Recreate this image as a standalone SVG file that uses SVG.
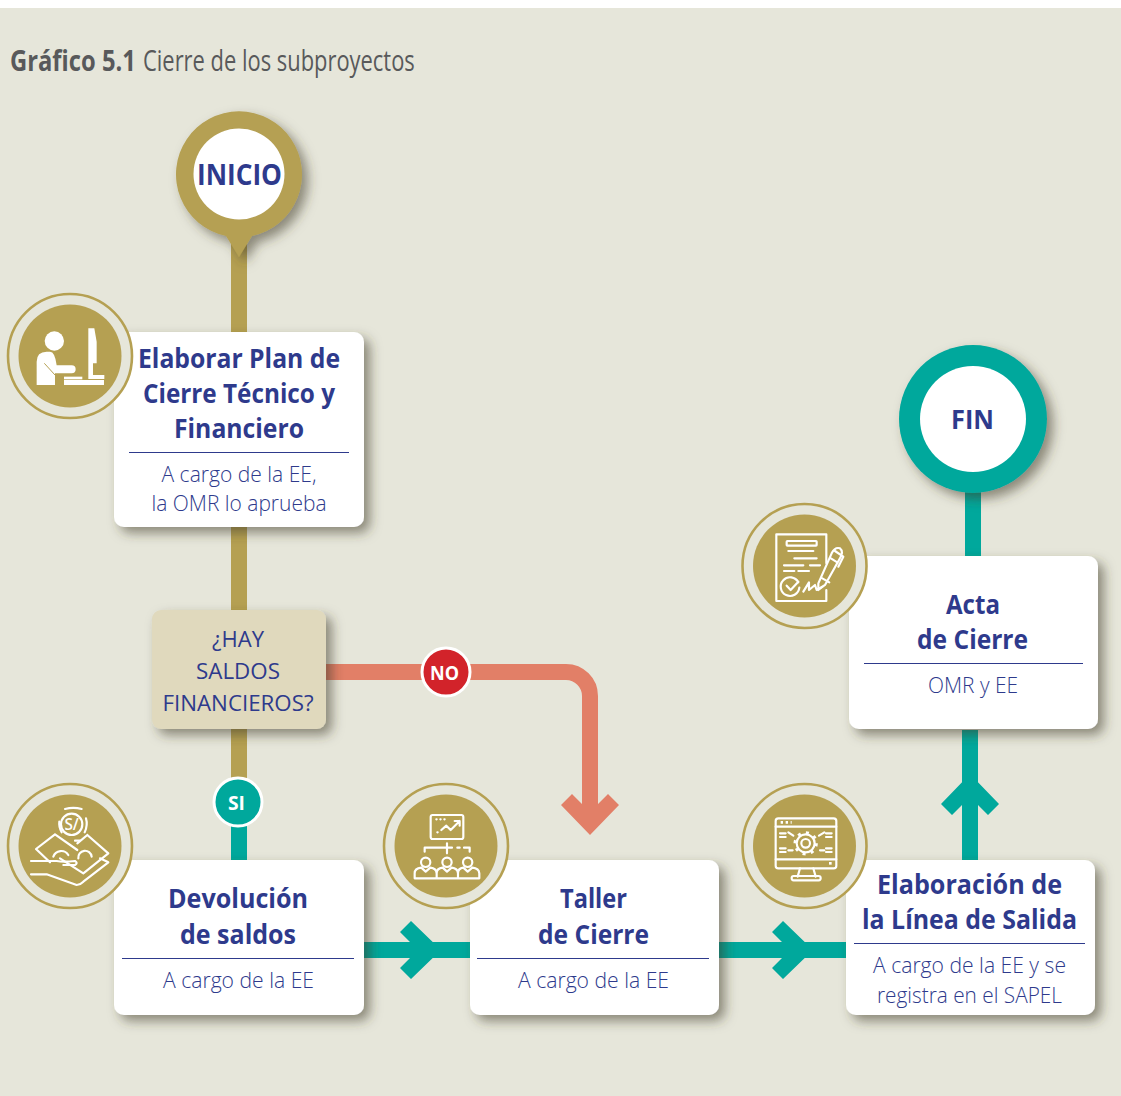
<svg xmlns="http://www.w3.org/2000/svg" xmlns:xlink="http://www.w3.org/1999/xlink" width="1121" height="1096" viewBox="0 0 1121 1096">
<style>
text{font-family:"Open Sans","Noto Sans","Liberation Sans",sans-serif;text-anchor:middle}
.h{font-weight:700;font-size:26px;fill:#2e3a8c}
.s{font-weight:300;font-size:22px;fill:#2e3a8c}
.d{font-weight:400;font-size:22px;fill:#2e3a8c}
.card{fill:#fff;filter:url(#sh)}
.div{stroke:#2e3a8c;stroke-width:1}
.ring{fill:#e6e6da;stroke:#b5a052;stroke-width:2.6}
.disc{fill:#b5a052}
.ic{fill:none;stroke:#fff;stroke-width:6.500;stroke-linecap:round;stroke-linejoin:round}
.icf{fill:#fff}
.gold{stroke:#b5a052;stroke-width:16;fill:none}
.teal{stroke:#00a89c;stroke-width:16;fill:none}
.sal{stroke:#e27f67;stroke-width:16;fill:none}
</style>
<defs>
<filter id="sh" x="-20%" y="-20%" width="150%" height="150%"><feDropShadow dx="6" dy="6" stdDeviation="6" flood-color="#3c3a2a" flood-opacity=".55"/></filter>
<polygon id="arrow" points="-29,-30 -18,-41 -8,-31 8,-31 18,-41 29,-30 0,0"/>
</defs>
<rect x="0" y="8" width="1121" height="1088" fill="#e6e6da"/>
<g id="title">
<text transform="translate(10 71) scale(.82 1)" style="text-anchor:start;font-weight:700;font-size:29px;fill:#58595b">Gráfico 5.1</text>
<text transform="translate(143 71) scale(.756 1)" style="text-anchor:start;font-weight:400;font-size:29px;fill:#58595b">Cierre de los subproyectos</text>
</g>
<g id="connectors">
<path class="gold" d="M239 240V610M239 729V800"/>
<path class="teal" d="M239 800V860"/>
<path class="sal" d="M326 672H566A24 24 0 0 1 590 696V820"/>
<use xlink:href="#arrow" href="#arrow" transform="translate(590 835)" fill="#e27f67"/>
<path class="teal" d="M364 950H470M719 950H846M970 730V860M973 490V556"/>
<use xlink:href="#arrow" href="#arrow" transform="translate(441 950) rotate(-90)" fill="#00a89c"/>
<use xlink:href="#arrow" href="#arrow" transform="translate(813 950) rotate(-90)" fill="#00a89c"/>
<use xlink:href="#arrow" href="#arrow" transform="translate(970 774) rotate(180)" fill="#00a89c"/>
</g>
<g id="node-inicio">
<path d="M226 236A63 63 0 1 1 252 236L239 257Z" fill="#b5a052" filter="url(#sh)"/>
<circle cx="239" cy="174" r="45.500" fill="#fff"/>
<text x="239.500" y="185" style="font-weight:700;font-size:28px;fill:#2e3a8c" textLength="85" lengthAdjust="spacingAndGlyphs">INICIO</text>
</g>
<g id="node-plan">
<rect class="card" x="114" y="332" width="250" height="195" rx="10"/>
<circle class="ring" cx="70" cy="356" r="62"/><circle class="disc" cx="70" cy="356" r="51.500"/>
<g transform="translate(0 280) scale(.3333)">
<circle class="icf" cx="163" cy="183" r="29"/>
<path class="icf" d="M110 315V245Q110 215 140 215H150Q165 215 170 256H215A12 12 0 0 1 215 280H165V315Z"/>
<path d="M133 250L165 285" stroke="#b5a052" stroke-width="3" fill="none"/>
<path class="icf" d="M265 145H283L290 185V250H279V285H265V248Z"/>
<rect class="icf" x="265" y="285" width="48" height="12"/>
<rect class="icf" x="192" y="300" width="120" height="15"/>
<rect class="icf" x="192" y="290" width="55" height="8"/>
</g>
<text class="h" x="239" y="368" textLength="202" lengthAdjust="spacingAndGlyphs">Elaborar Plan de</text>
<text class="h" x="239" y="403" textLength="192" lengthAdjust="spacingAndGlyphs">Cierre Técnico y</text>
<text class="h" x="239" y="438" textLength="130" lengthAdjust="spacingAndGlyphs">Financiero</text>
<line class="div" x1="129" y1="452.500" x2="349" y2="452.500"/>
<text class="s" x="239" y="482" textLength="155" lengthAdjust="spacingAndGlyphs">A cargo de la EE,</text>
<text class="s" x="239" y="511" textLength="175" lengthAdjust="spacingAndGlyphs">la OMR lo aprueba</text>
</g>
<g id="node-decision">
<rect x="152" y="610" width="174" height="119" rx="9" fill="#e0d9bd" filter="url(#sh)"/>
<text class="d" x="238" y="647" textLength="52" lengthAdjust="spacingAndGlyphs">¿HAY</text>
<text class="d" x="238" y="679" textLength="84" lengthAdjust="spacingAndGlyphs">SALDOS</text>
<text class="d" x="238" y="711" textLength="151" lengthAdjust="spacingAndGlyphs">FINANCIEROS?</text>
</g>
<g id="label-no">
<circle cx="446" cy="672" r="24" fill="#d2232a" stroke="#fff" stroke-width="3"/>
<text x="444.500" y="680" style="font-weight:700;font-size:20px;fill:#fff" textLength="29" lengthAdjust="spacingAndGlyphs">NO</text>
</g>
<g id="label-si">
<circle cx="238" cy="802" r="24" fill="#00a89c" stroke="#fff" stroke-width="3"/>
<text x="236.500" y="810" style="font-weight:700;font-size:19px;fill:#fff" textLength="17" lengthAdjust="spacingAndGlyphs">SI</text>
</g>
<g id="node-devolucion">
<rect class="card" x="114" y="860" width="250" height="155" rx="10"/>
<circle class="ring" cx="70" cy="846" r="62"/><circle class="disc" cx="70" cy="846" r="51.500"/>
<g transform="translate(0 775) scale(.3333)">
<g class="ic">
<circle cx="215" cy="148" r="32"/>
<path d="M195 102Q220 95 245 102M178 140Q176 155 185 172M258 130Q264 150 254 172M225 197H240"/>
<path d="M165 178L108 222L150 262M165 178L232 225M262 180L325 235L250 295L180 250M232 205L262 180"/>
<path d="M160 245A25 25 0 0 1 205 240M235 250A20 20 0 1 1 275 245"/>
<path d="M93 258H170Q190 262 225 258Q235 264 225 270H190M93 298H140L230 330Q240 330 250 320L325 262L300 250"/>
</g>
<text x="215" y="165" style="font-weight:600;font-size:46px;fill:#fff">S/</text>
</g>
<text class="h" x="238" y="908" textLength="140" lengthAdjust="spacingAndGlyphs">Devolución</text>
<text class="h" x="238" y="944" textLength="116" lengthAdjust="spacingAndGlyphs">de saldos</text>
<line class="div" x1="122" y1="958.500" x2="354" y2="958.500"/>
<text class="s" x="238.500" y="988" textLength="151" lengthAdjust="spacingAndGlyphs">A cargo de la EE</text>
</g>
<g id="node-taller">
<rect class="card" x="470" y="860" width="249" height="155" rx="10"/>
<circle class="ring" cx="446" cy="846" r="62"/><circle class="disc" cx="446" cy="846" r="51.500"/>
<g transform="translate(378 775) scale(.3333)" class="ic">
<rect x="158" y="120" width="98" height="72" rx="6"/>
<path d="M175 133H205" stroke-dasharray="1 11"/>
<path d="M178 172H179M190 165L205 152L218 165L245 138M230 138H245V152"/>
<path d="M140 230V218H222M238 218H245M258 218H275V230M207 205V235"/>
<circle cx="143" cy="262" r="14"/><circle cx="207" cy="262" r="14"/><circle cx="269" cy="262" r="14"/>
<path d="M110 310V295Q110 280 130 278L143 290L157 278Q175 280 176 295V310ZM176 310V295Q176 280 194 278L207 290L221 278Q239 280 240 295V310ZM240 310V295Q240 280 256 278L269 290L283 278Q303 280 304 295V310Z"/>
</g>
<text class="h" x="593.500" y="908" textLength="67" lengthAdjust="spacingAndGlyphs">Taller</text>
<text class="h" x="593.500" y="944" textLength="111" lengthAdjust="spacingAndGlyphs">de Cierre</text>
<line class="div" x1="477" y1="958.500" x2="709" y2="958.500"/>
<text class="s" x="593.500" y="988" textLength="151" lengthAdjust="spacingAndGlyphs">A cargo de la EE</text>
</g>
<g id="node-linea">
<rect class="card" x="846" y="860" width="249" height="155" rx="10"/>
<circle class="ring" cx="804.500" cy="846" r="62"/><circle class="disc" cx="804.500" cy="846" r="51.500"/>
<g transform="translate(735 775) scale(.3333)" class="ic">
<rect x="122" y="130" width="182" height="150" rx="8"/>
<path d="M122 155H304M122 253H304"/>
<path d="M137 142H170" stroke-dasharray="7 8" stroke-width="8" stroke-linecap="butt"/>
<path d="M282 265H290" stroke-width="8" stroke-linecap="butt"/>
<circle cx="212" cy="205" r="13"/>
<circle cx="212" cy="205" r="27"/>
<circle cx="212" cy="205" r="32" stroke-width="9" stroke-dasharray="9 16.100" stroke-linecap="butt"/>
<path d="M135 175H152M135 186H152M273 175H290M273 186H290M135 220H152M135 231H152M273 220H290M273 231H290M160 226H173M255 226H268M160 172L175 182M268 172L252 182"/>
<path d="M195 280L188 305M235 280L242 305"/>
<rect x="170" y="303" width="87" height="13" rx="6"/>
</g>
<text class="h" x="969.500" y="894" textLength="185" lengthAdjust="spacingAndGlyphs">Elaboración de</text>
<text class="h" x="969.500" y="929" textLength="215" lengthAdjust="spacingAndGlyphs">la Línea de Salida</text>
<line class="div" x1="854" y1="943.500" x2="1085" y2="943.500"/>
<text class="s" x="969.500" y="973" textLength="193" lengthAdjust="spacingAndGlyphs">A cargo de la EE y se</text>
<text class="s" x="969.500" y="1003" textLength="185" lengthAdjust="spacingAndGlyphs">registra en el SAPEL</text>
</g>
<g id="node-acta">
<rect class="card" x="849" y="556" width="249" height="173" rx="10"/>
<circle class="ring" cx="804.500" cy="566" r="62"/><circle class="disc" cx="804.500" cy="566" r="51.500"/>
<g transform="translate(735 495) scale(.3333)" class="ic">
<path d="M274 205V118H124V318H274V285"/>
<rect x="155" y="138" width="90" height="14" rx="2"/>
<path d="M160 168H235M178 190H245M147 211H205M225 211H255M147 228H178M190 228H222"/>
<path d="M190 262A28 28 0 1 0 193 278M155 272L167 285L190 260"/>
<path d="M250 265L290 175Q300 155 315 160Q328 170 312 195L270 270L250 285ZM284 188L308 203M262 250L283 262M300 168L325 185L310 215"/>
<path d="M205 290L222 262L222 285L240 270L245 285L262 275"/>
</g>
<text class="h" x="973" y="614" textLength="54" lengthAdjust="spacingAndGlyphs">Acta</text>
<text class="h" x="972.500" y="649" textLength="111" lengthAdjust="spacingAndGlyphs">de Cierre</text>
<line class="div" x1="864" y1="663.500" x2="1083" y2="663.500"/>
<text class="s" x="973" y="693" textLength="90" lengthAdjust="spacingAndGlyphs">OMR y EE</text>
</g>
<g id="node-fin">
<circle cx="973" cy="419" r="74" fill="#00a89c" filter="url(#sh)"/>
<circle cx="973" cy="419" r="53" fill="#fff"/>
<text x="972.500" y="429" style="font-weight:700;font-size:27px;fill:#2e3a8c" textLength="43" lengthAdjust="spacingAndGlyphs">FIN</text>
</g>
</svg>
